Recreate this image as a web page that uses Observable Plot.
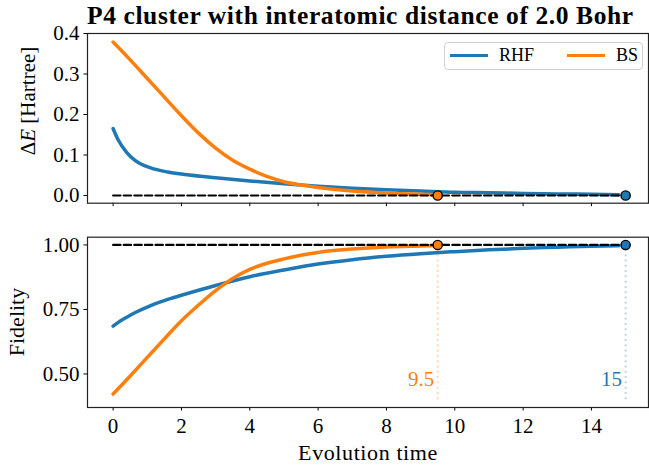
<!DOCTYPE html>
<html><head><meta charset="utf-8">
<script src="https://cdn.jsdelivr.net/npm/d3@7"></script>
<script src="https://cdn.jsdelivr.net/npm/@observablehq/plot@0.6"></script>
<style>
body{margin:0;background:#fff;}
#c{position:relative;width:649px;height:470px;font-family:"Liberation Serif",serif;color:#000;overflow:hidden;}
.abs{position:absolute;white-space:nowrap;}
.rot{transform:translate(-50%,-50%) rotate(-90deg);}
.ctr{transform:translate(-50%,-50%);}
</style></head><body><div id="c"></div>
<script>
// ---- data ----
const titleText = "P4 cluster with interatomic distance of 2.0 Bohr";
const seriesNames = ["RHF", "BS"];
const seriesColors = ["#1f77b4", "#ff7f0e"];

const tRHF = [0, 0.15, 0.4, 0.65, 1.1, 1.6, 2.1, 3, 4, 5, 6, 7, 8, 9, 10, 11, 12, 13, 14, 14.8];
const dE_RHF = [0.165, 0.137, 0.106, 0.086, 0.068, 0.058, 0.052, 0.044, 0.036, 0.029, 0.023, 0.018, 0.014, 0.011, 0.008, 0.007, 0.005, 0.004, 0.003, 0.002];
const fid_RHF = [0.685, 0.700, 0.720, 0.738, 0.765, 0.789, 0.809, 0.843, 0.877, 0.903, 0.926, 0.943, 0.956, 0.966, 0.974, 0.981, 0.987, 0.991, 0.995, 0.997];

const tBS = [0, 0.5, 1, 1.5, 2, 2.5, 3, 3.5, 4, 4.5, 5, 5.5, 6, 7, 8, 9, 9.5];
const dE_BS = [0.379, 0.335, 0.289, 0.243, 0.197, 0.154, 0.117, 0.087, 0.065, 0.047, 0.034, 0.026, 0.020, 0.011, 0.006, 0.003, 0.002];
const fid_BS = [0.422, 0.492, 0.564, 0.636, 0.706, 0.767, 0.823, 0.870, 0.905, 0.929, 0.946, 0.960, 0.971, 0.984, 0.992, 0.996, 0.998];

const convTimes = [15, 9.5];          // RHF, BS convergence times
const convLabels = ["15", "9.5"];
const refSpan = [0, 15];              // dashed reference line extent
const dETarget = 0;
const fidTarget = 1;
const vlineBottom = 0.4;
const labelY = 0.478;

const xTicks = [0, 2, 4, 6, 8, 10, 12, 14];
const dETicks = [0, 0.1, 0.2, 0.3, 0.4];
const fidTicks = [0.5, 0.75, 1.0];

// ---- build tables ----
const zip = (t, v, s) => t.map((x, i) => ({x, y: v[i], s}));
const dERows = [...zip(tRHF, dE_RHF, "RHF"), ...zip(tBS, dE_BS, "BS")];
const fidRows = [...zip(tRHF, fid_RHF, "RHF"), ...zip(tBS, fid_BS, "BS")];
const refTop = refSpan.map(x => ({x, y: dETarget}));
const refBot = refSpan.map(x => ({x, y: fidTarget}));
const convTop = convTimes.map((x, i) => ({x, y: dETarget, s: seriesNames[i]}));
const convBot = convTimes.map((x, i) => ({x, y: fidTarget, s: seriesNames[i], label: convLabels[i]}));

const FONT = "Liberation Serif";
const color = {domain: seriesNames, range: seriesColors};
const xDomain = [-0.75, 15.67];
const style = {fontFamily: FONT, fontSize: "21px", background: "transparent", overflow: "visible", color: "#000"};

const topPlot = Plot.plot({
  width: 649, height: 215, marginTop: 33, marginBottom: 12.3, marginLeft: 87, marginRight: 1,
  style, color,
  x: {domain: xDomain},
  y: {domain: [-0.019, 0.4]},
  marks: [
    Plot.axisX({ticks: xTicks, tickSize: 3.5, tickFormat: () => "", label: null, strokeWidth: 1}),
    Plot.axisY({ticks: dETicks, tickSize: 3.5, tickPadding: 4.5, tickFormat: d3.format(".1f"), label: null, strokeWidth: 1}),
    Plot.line(dERows, {x: "x", y: "y", z: "s", stroke: "s", strokeWidth: 3.5, curve: "monotone-x"}),
    Plot.line(refTop, {x: "x", y: "y", stroke: "#000", strokeWidth: 2.2, strokeDasharray: "7.4,3.2"}),
    Plot.dot(convTop, {x: "x", y: "y", fill: "s", stroke: "#000", strokeWidth: 1.4, r: 4.6}),
    Plot.frame({stroke: "#222", strokeWidth: 1.2})
  ]
});

const botPlot = Plot.plot({
  width: 649, height: 255, marginTop: 21.7, marginBottom: 63, marginLeft: 87, marginRight: 1,
  style, color,
  x: {domain: xDomain},
  y: {domain: [0.37, 1.03]},
  marks: [
    Plot.axisX({ticks: xTicks, tickSize: 3.5, tickPadding: 7, label: null, strokeWidth: 1}),
    Plot.axisY({ticks: fidTicks, tickSize: 3.5, tickPadding: 4.5, tickFormat: d3.format(".2f"), label: null, strokeWidth: 1}),
    Plot.ruleX(convBot, {x: "x", y1: vlineBottom, y2: "y", stroke: "s", strokeOpacity: 0.3, strokeWidth: 2, strokeDasharray: "2,3.3"}),
    Plot.line(fidRows, {x: "x", y: "y", z: "s", stroke: "s", strokeWidth: 3.5, curve: "monotone-x"}),
    Plot.line(refBot, {x: "x", y: "y", stroke: "#000", strokeWidth: 2.2, strokeDasharray: "7.4,3.2"}),
    Plot.dot(convBot, {x: "x", y: "y", fill: "s", stroke: "#000", strokeWidth: 1.4, r: 4.6}),
    Plot.text(convBot, {x: "x", y: () => labelY, text: "label", fill: "s", textAnchor: "end", dx: -3.5, fontSize: 21}),
    Plot.frame({stroke: "#222", strokeWidth: 1.2})
  ]
});

const c = document.getElementById("c");
topPlot.style.position = "absolute"; topPlot.style.left = "0px"; topPlot.style.top = "0px";
botPlot.style.position = "absolute"; botPlot.style.left = "0px"; botPlot.style.top = "215px";
c.appendChild(topPlot);
c.appendChild(botPlot);

function addDiv(html, css, cls) {
  const d = document.createElement("div");
  d.className = "abs " + (cls || "");
  d.innerHTML = html;
  Object.assign(d.style, css);
  c.appendChild(d);
  return d;
}
// title
addDiv("", {left: "87px", width: "546px", top: "1px", textAlign: "center", fontWeight: "bold", fontSize: "25.5px", letterSpacing: "0.6px", lineHeight: "30px"}).textContent = titleText;
// y labels
addDiv('&Delta;<i>E</i> [Hartree]', {left: "28px", top: "101px", fontSize: "21px"}, "rot");
addDiv('Fidelity', {left: "17px", top: "322px", fontSize: "22px"}, "rot");
// x label
addDiv('Evolution time', {left: "368px", top: "453px", fontSize: "22px", letterSpacing: "0.6px"}, "ctr");

// legend
const lg = addDiv("", {left: "444px", top: "42px", width: "197px", height: "26px", border: "1px solid #d0d0d0", borderRadius: "4px", background: "rgba(255,255,255,0.8)"});
const lgX = [5, 122];
seriesNames.forEach((name, i) => {
  const sw = document.createElement("div");
  Object.assign(sw.style, {position: "absolute", left: lgX[i] + "px", top: "10.5px", width: "38px", height: "3.5px", background: seriesColors[i]});
  lg.appendChild(sw);
  const tx = document.createElement("div");
  Object.assign(tx.style, {position: "absolute", left: (lgX[i] + 49) + "px", top: "2px", fontSize: "18px", lineHeight: "20px"});
  tx.textContent = name;
  lg.appendChild(tx);
});
</script>
</body></html>
